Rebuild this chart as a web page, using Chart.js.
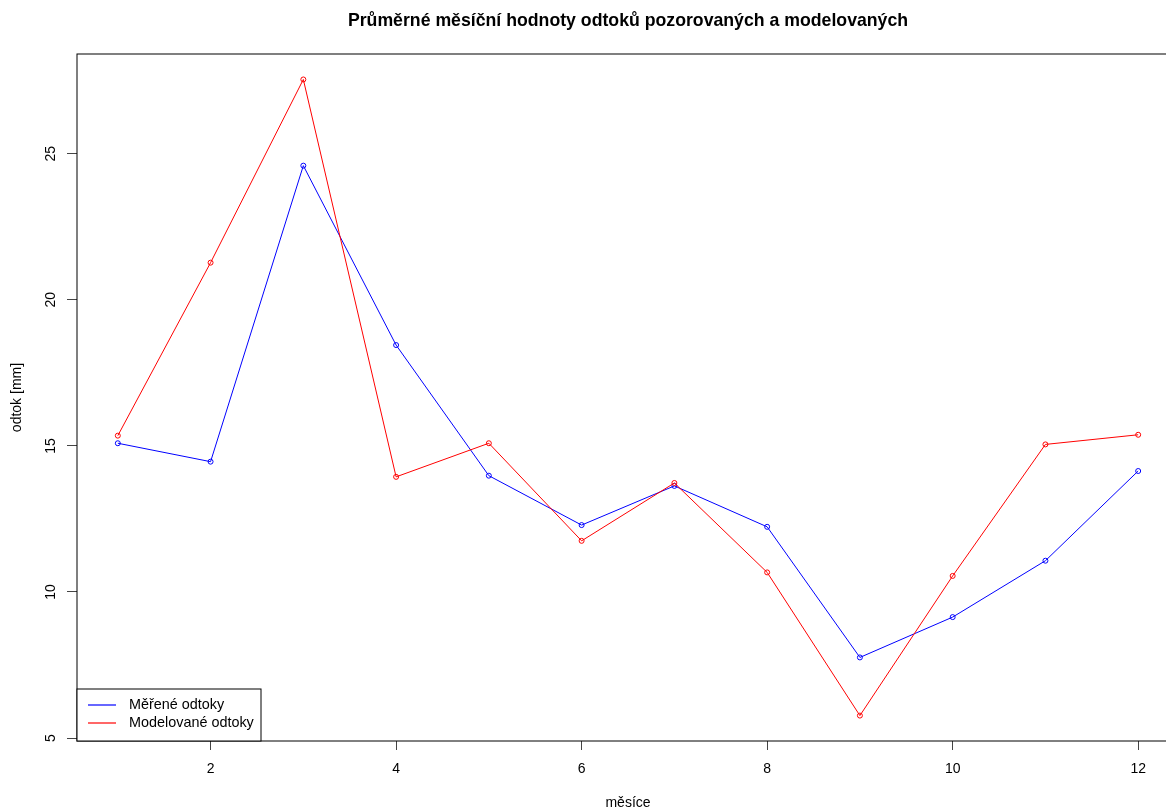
<!DOCTYPE html>
<html><head><meta charset="utf-8">
<script src="https://cdn.jsdelivr.net/npm/chart.js@4.4.1/dist/chart.umd.min.js"></script>
<style>html,body{margin:0;padding:0;background:#fff;overflow:hidden;width:1166px;height:809px}canvas{display:block}</style>
</head><body><canvas id="c" width="1184" height="809"></canvas>
<script>
const months = [1, 2, 3, 4, 5, 6, 7, 8, 9, 10, 11, 12];
const measured = [15.09, 14.46, 24.59, 18.45, 13.98, 12.29, 13.63, 12.23, 7.76, 9.14, 11.07, 14.14];
const modeled = [15.35, 21.27, 27.54, 13.94, 15.09, 11.75, 13.73, 10.67, 5.77, 10.55, 15.05, 15.38];
const xTicks = [2, 4, 6, 8, 10, 12];
const yTicks = [5, 10, 15, 20, 25];
const xRange = [0.56, 12.44];
const yRange = [4.90, 28.41];
const chartTitle = 'Průměrné měsíční hodnoty odtoků pozorovaných a modelovaných';
const xTitle = 'měsíce';
const yTitle = 'odtok [mm]';
const seriesLabels = ['Měřené odtoky', 'Modelované odtoky'];
const seriesColors = ['#0000ff', '#ff0000'];

const FONT = '"Liberation Sans", Arial, sans-serif';
Chart.defaults.font.family = FONT;
Chart.defaults.color = '#000';

const boxPlugin = {
  id: 'rBox',
  afterDatasetsDraw(chart) {
    const a = chart.chartArea, ctx = chart.ctx;
    ctx.save();
    ctx.strokeStyle = '#000';
    ctx.lineWidth = 1;
    ctx.strokeRect(Math.round(a.left), Math.round(a.top), Math.round(a.right - a.left), Math.round(a.bottom - a.top));
    ctx.restore();
  }
};
const legendPlugin = {
  id: 'rLegend',
  afterDraw(chart) {
    const a = chart.chartArea, ctx = chart.ctx;
    const w = 184, h = 52;
    const x0 = Math.round(a.left), y0 = Math.round(a.bottom) - h;
    ctx.save();
    ctx.fillStyle = '#fff';
    ctx.fillRect(x0, y0, w, h);
    ctx.strokeStyle = '#000';
    ctx.lineWidth = 1;
    ctx.strokeRect(x0, y0, w, h);
    chart.data.datasets.forEach((ds, i) => {
      const yy = y0 + 16 + i * 18;
      ctx.strokeStyle = seriesColors[i];
      ctx.lineWidth = 1.2;
      ctx.beginPath(); ctx.moveTo(x0 + 11, yy); ctx.lineTo(x0 + 39, yy); ctx.stroke();
      ctx.fillStyle = '#000';
      ctx.font = '14.4px ' + FONT;
      ctx.textBaseline = 'middle';
      ctx.textAlign = 'left';
      ctx.fillText(ds.label, x0 + 52, yy + 0.5);
    });
    ctx.restore();
  }
};

const mk = (vals) => months.map((m, i) => ({x: m, y: vals[i]}));

new Chart(document.getElementById('c'), {
  type: 'line',
  data: {
    datasets: [
      {label: seriesLabels[0], data: mk(measured), borderColor: seriesColors[0], backgroundColor: 'rgba(0,0,0,0)',
       borderWidth: 1, pointRadius: 2.5, pointBorderWidth: 1, pointBackgroundColor: 'rgba(0,0,0,0)', pointBorderColor: seriesColors[0], order: 1, tension: 0},
      {label: seriesLabels[1], data: mk(modeled), borderColor: seriesColors[1], backgroundColor: 'rgba(0,0,0,0)',
       borderWidth: 1, pointRadius: 2.5, pointBorderWidth: 1, pointBackgroundColor: 'rgba(0,0,0,0)', pointBorderColor: seriesColors[1], order: 0, tension: 0}
    ]
  },
  options: {
    responsive: false,
    animation: false,
    devicePixelRatio: 1,
    layout: {padding: 0},
    plugins: {
      legend: {display: false},
      tooltip: {enabled: false},
      title: {display: true, fullSize: false, text: chartTitle, color: '#000', font: {size: 17.7, weight: 'bold', family: FONT}, padding: {top: 10.5, bottom: 22.3}}
    },
    scales: {
      x: {
        type: 'linear', min: xRange[0], max: xRange[1],
        afterFit(s) { s.height = 68; },
        afterBuildTicks(s) { s.ticks = xTicks.map(v => ({value: v})); },
        grid: {drawOnChartArea: false, drawTicks: true, tickLength: 9, color: '#444', lineWidth: 1},
        border: {display: false},
        ticks: {font: {size: 14}, color: '#000', padding: 11, maxRotation: 0, autoSkip: false},
        title: {display: true, text: xTitle, font: {size: 14}, color: '#000', padding: {top: 0, bottom: -3}}
      },
      y: {
        type: 'linear', min: yRange[0], max: yRange[1],
        afterFit(s) { s.width = 77; },
        afterBuildTicks(s) { s.ticks = yTicks.map(v => ({value: v})); },
        grid: {drawOnChartArea: false, drawTicks: true, tickLength: 10, color: '#444', lineWidth: 1},
        border: {display: false},
        ticks: {font: {size: 14}, color: '#000', padding: 8, minRotation: 90, maxRotation: 90, crossAlign: 'center', autoSkip: false},
        title: {display: true, text: yTitle, font: {size: 14}, color: '#000', padding: {top: 9, bottom: 0}}
      }
    }
  },
  plugins: [boxPlugin, legendPlugin]
});
</script></body></html>
